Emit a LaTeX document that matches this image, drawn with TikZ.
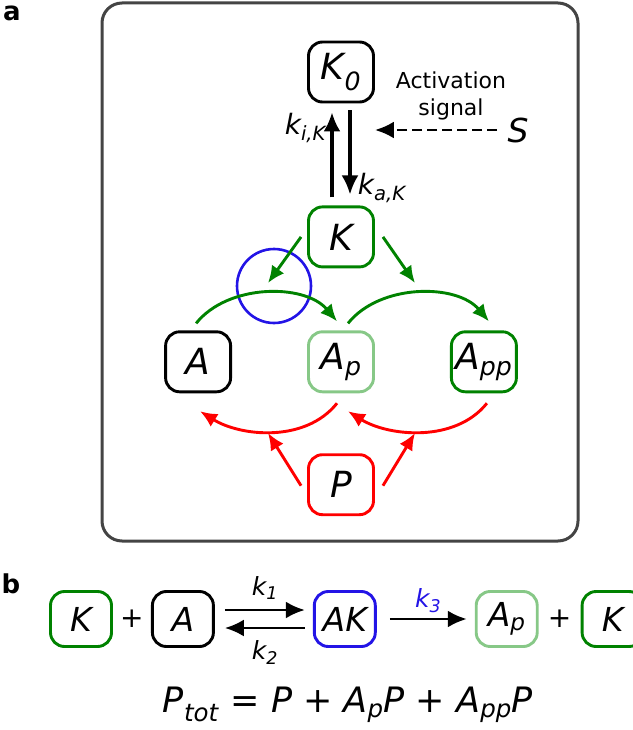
\documentclass[tikz,border=0pt]{standalone}
\usepackage{fontspec}
\setmainfont{DejaVu Sans}
\usetikzlibrary{arrows.meta,positioning,calc}

\definecolor{kgreen}{RGB}{0,130,0}
\definecolor{pgreen}{RGB}{135,200,135}
\definecolor{cblue}{RGB}{35,20,230}
\definecolor{pred}{RGB}{255,0,0}
\definecolor{framegray}{RGB}{68,68,68}

\begin{document}
\begin{tikzpicture}[
  x=1pt, y=-1pt,
  node distance=62pt and 75pt,
  spc/.style={draw, rounded corners=14pt, line width=2.9pt, minimum width=65pt, minimum height=60pt, inner sep=2pt, font=\fontsize{36}{40}\selectfont\itshape},
  eqn/.style={spc, minimum width=61pt, minimum height=55pt, font=\fontsize{33}{38}\selectfont\itshape},
  rate/.style={font=\fontsize{28}{32}\selectfont\itshape},
  brate/.style={font=\fontsize{25}{29}\selectfont\itshape},
  plus/.style={font=\fontsize{28}{32}\selectfont},
  panel/.style={inner sep=0pt, font=\fontsize{26}{30}\selectfont\bfseries},
  link/.style={-{Latex[length=19pt,width=17pt]}, line width=3.2pt},
  act/.style={-{Latex[length=17pt,width=15pt]}, line width=2.9pt, kgreen},
  dep/.style={act, pred}
]
\useasboundingbox (0,0) rectangle (632,730);
\draw[framegray, line width=3pt, rounded corners=20pt] (102,3) rectangle (578,541);

% panel a
\node[panel] (la) at (12,13) {a};
\node[spc] (K0) at (341,72) {K\textsubscript{0}};
\node[spc, draw=kgreen, below=102pt of K0] (K) {K};
\node[spc, draw=pgreen, below=of K] (Ap) {A\textsubscript{p}};
\node[spc, left=of Ap] (A) {A};
\node[spc, draw=kgreen, right=of Ap] (App) {A\textsubscript{pp}};
\node[spc, draw=pred, below=60pt of Ap] (P) {P};
\node[font=\fontsize{22}{27}\selectfont, align=center] (sig) at (451,96) {Activation\\signal};
\node[font=\fontsize{33}{36}\selectfont\itshape] (S) at (518,130) {S};
\node[draw=cblue, circle, line width=2.6pt, minimum size=74pt] (enz) at (274,286) {};

\coordinate (hitA) at (268,283);
\coordinate (hitApp) at (415,283);
\coordinate (hitP1) at (268,433);
\coordinate (hitP2) at (415,433);

\draw[link] ($(K.north)+(-9,-8)$) -- node[rate, left=1pt, pos=0.82] {k\textsubscript{i,K}} ($(K0.south)+(-9,9)$);
\draw[link] ($(K0.south)+(9,7)$) -- node[rate, right=3pt, pos=0.92] {k\textsubscript{a,K}} ($(K.north)+(9,-11)$);
\draw[link, line width=2.8pt, dash pattern=on 10pt off 5pt, shorten <=7pt] (S.west) -- (S.west -| K0.east);

\draw[act] ($(K.west)+(-6,0)$) -- (hitA);
\draw[act] ($(K.east)+(8,0)$) -- (hitApp);
\draw[act] ($(A.north)+(-2,-7)$) .. controls +(32,-40) and +(-32,-38) .. ($(Ap.north)+(-4,-9)$);
\draw[act] ($(Ap.north)+(7,-7)$) .. controls +(32,-40) and +(-32,-38) .. ($(App.north)+(5,-9)$);

\draw[dep] ($(Ap.south)+(-4,10)$) .. controls +(-32,40) and +(40,25) .. ($(A.south)+(2,18)$);
\draw[dep] ($(App.south)+(3,10)$) .. controls +(-32,40) and +(40,25) .. ($(Ap.south)+(7,18)$);
\draw[dep] ($(P.west)+(-6,1)$) -- (hitP1);
\draw[dep] ($(P.east)+(8,1)$) -- (hitP2);

% panel b
\node[panel] (lb) at (11,584) {b};
\node[eqn, draw=kgreen] (bK) at (81,619) {K};
\node[eqn, right=38pt of bK] (bA) {A};
\node[eqn, draw=cblue, right=98pt of bA] (bAK) {AK};
\node[eqn, draw=pgreen, right=98pt of bAK] (bAp) {A\textsubscript{p}};
\node[eqn, draw=kgreen, right=42pt of bAp] (bK2) {K};
\node[plus] (p1) at ($(bK)!0.5!(bA)$) {+};
\node[plus] (p2) at ($(bAp)!0.5!(bK2)$) {+};

\draw[link, line width=2.8pt] ($(bA.east)+(10,-9)$) -- node[brate, above=6pt] {k\textsubscript{1}} ($(bAK.west)+(-8,-9)$);
\draw[link, line width=2.8pt] ($(bAK.west)+(-8,9)$) -- node[brate, below=8pt] {k\textsubscript{2}} ($(bA.east)+(10,9)$);
\draw[link, line width=2.8pt] ($(bAK.east)+(13,0)$) -- node[brate, cblue, above=2pt] {k\textsubscript{3}} ($(bAp.west)+(-8,0)$);

\node[font=\fontsize{35}{40}\selectfont] (ptot) at (348,705)
  {\textit{P}\textsubscript{\textit{tot}} = \textit{P} + \textit{A}\textsubscript{\textit{p}}\textit{P} + \textit{A}\textsubscript{\textit{pp}}\textit{P}};
\end{tikzpicture}
\end{document}
